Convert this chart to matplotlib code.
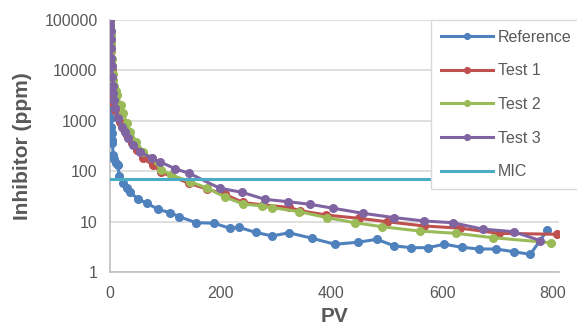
import matplotlib
matplotlib.use("Agg")
import matplotlib.pyplot as plt
from matplotlib.ticker import FixedLocator, FuncFormatter, NullLocator

# ---- data ----
ref_pv = [0.5, 1, 1.5, 2, 2.5, 3, 3.5, 4, 6, 8, 11, 14, 17, 23, 30, 36, 51, 67, 87, 109,
          125, 156, 188, 216, 233, 263, 293, 323, 364, 406, 448, 482, 513, 544, 574, 604,
          635, 666, 697, 729, 759, 790]
ref_val = [5500, 2800, 1900, 1130, 760, 565, 415, 357, 210, 175, 145, 130, 80, 58, 47, 38,
           28, 23, 17.5, 15, 12.5, 9.5, 9.3, 7.4, 7.7, 6.1, 5.2, 6.0, 4.7, 3.55, 3.9, 4.45,
           3.3, 3.04, 3.04, 3.55, 3.1, 2.86, 2.86, 2.53, 2.24, 6.8]

t1_pv = [0.3, 0.6, 1, 1.5, 2, 3, 4, 5, 6, 7, 9, 18, 24, 30, 39, 48, 60, 77, 93, 143, 176,
         207, 240, 276, 323, 343, 391, 450, 500, 567, 633, 702, 807]
t1_val = [68000, 50000, 35000, 24000, 16000, 10000, 6500, 4300, 3000, 2200, 1630, 960, 710,
          525, 357, 264, 180, 133, 95, 57.5, 44, 35, 24, 21.4, 19.2, 16.5, 13.5, 11.6, 9.95,
          8.2, 7.4, 5.85, 5.6]

t2_pv = [0.3, 0.6, 1, 1.5, 2, 3, 4, 5, 6, 8, 10, 13, 19, 24, 30, 37, 47, 60, 75, 93, 111,
         144, 176, 207, 240, 275, 292, 341, 392, 442, 492, 559, 625, 691, 797]
t2_val = [90000, 70000, 50000, 35000, 25000, 17000, 12000, 8500, 6500, 4800, 3900, 3240, 2050,
          1410, 890, 605, 385, 245, 180, 105, 84, 62, 46, 31, 22.4, 20.4, 19, 15.8, 12, 9.5,
          7.9, 6.5, 5.85, 4.8, 3.8]

t3_pv = [0.3, 0.6, 1, 1.5, 2, 2.5, 3, 4, 5, 6, 7, 9, 15, 21, 27, 33, 41, 54, 75, 90, 117,
         143, 198, 239, 280, 322, 362, 403, 457, 513, 567, 619, 673, 729, 777]
t3_val = [100000, 80000, 60000, 42000, 28000, 18000, 12000, 7500, 5000, 3600, 2600, 1770, 1120,
          760, 605, 450, 330, 245, 180, 155, 112, 91, 46, 38, 27.6, 24.8, 22, 18.4, 14.6, 12,
          10.3, 9.5, 7.1, 6.3, 4.2]

mic_pv = [0, 800]
mic_val = [70, 70]

x_ticks = [0, 200, 400, 600, 800]
y_ticks = [1, 10, 100, 1000, 10000, 100000]

plt.rcParams['font.family'] = ['Liberation Sans', 'DejaVu Sans']

W, H = 577, 329
fig = plt.figure(figsize=(W / 100, H / 100), dpi=100)
ax = fig.add_axes([110 / W, 1 - 272 / H, (558.5 - 110) / W, (272 - 20) / H])

ms = 5.5
lw = 2.2
ax.plot(ref_pv, ref_val, '-o', color='#4F81BD', lw=lw, ms=ms, label='Reference', zorder=3)
ax.plot(t1_pv, t1_val, '-o', color='#C0504D', lw=lw, ms=ms, label='Test 1', zorder=3)
ax.plot(t2_pv, t2_val, '-o', color='#9BBB59', lw=lw, ms=ms, label='Test 2', zorder=3)
ax.plot(t3_pv, t3_val, '-o', color='#8064A2', lw=lw, ms=ms, label='Test 3', zorder=3)
ax.plot(mic_pv, mic_val, '-', color='#4BACC6', lw=lw, label='MIC', zorder=3)

ax.set_yscale('log')
ax.set_xlim(0, 810)
ax.set_ylim(1, 100000)
ax.xaxis.set_major_locator(FixedLocator(x_ticks))
ax.yaxis.set_major_locator(FixedLocator(y_ticks))
ax.yaxis.set_minor_locator(NullLocator())
ax.yaxis.set_major_formatter(FuncFormatter(lambda v, p: f"{int(round(v))}"))
ax.grid(axis='y', color='#D9D9D9', lw=1.2, zorder=0)
ax.set_axisbelow(True)
for s in ['top', 'right']:
    ax.spines[s].set_visible(False)
for s in ['left', 'bottom']:
    ax.spines[s].set_color('#BFBFBF')
    ax.spines[s].set_linewidth(1.2)
ax.tick_params(length=0, labelsize=11.5, colors='#595959')
ax.tick_params(axis='y', pad=9)
ax.tick_params(axis='x', pad=10)

ax.set_xlabel('PV', fontsize=15, fontweight='bold', color='#595959')
ax.set_ylabel('Inhibitor (ppm)', fontsize=15, fontweight='bold', color='#595959')
ax.yaxis.set_label_coords(-0.174, 0.5)
ax.xaxis.set_label_coords(0.5, -0.14)

leg = ax.legend(loc='upper left', bbox_to_anchor=(431 / W, 1 - 20 / H),
                bbox_transform=fig.transFigure, borderaxespad=0, frameon=True,
                fancybox=False, framealpha=1.0, fontsize=11.5, handlelength=3.3,
                labelspacing=1.17, borderpad=0.6, handletextpad=0.3, markerscale=0.75)
leg.get_frame().set_edgecolor('#D9D9D9')
leg.get_frame().set_linewidth(1.0)
for t in leg.get_texts():
    t.set_color('#595959')

fig.savefig('out.png', dpi=100)
